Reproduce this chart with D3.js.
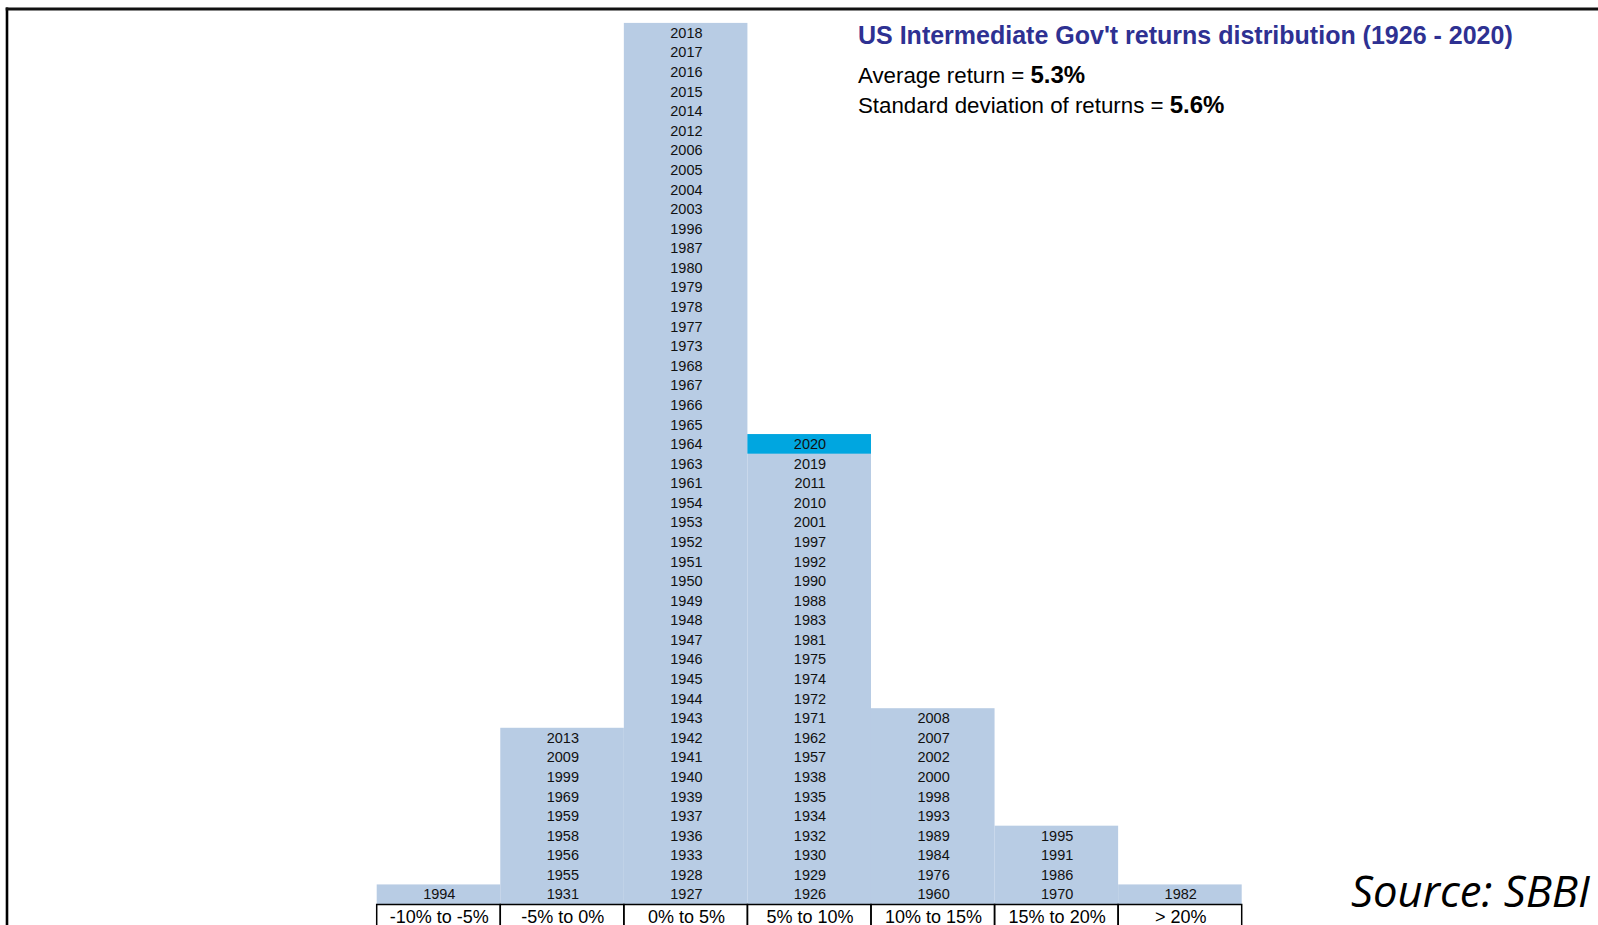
<!DOCTYPE html>
<html>
<head>
<meta charset="utf-8">
<script src="https://cdn.jsdelivr.net/npm/d3@7/dist/d3.min.js"></script>
<style>
  html, body { margin: 0; padding: 0; background: #fff; overflow: hidden; }
  svg { display: block; }
</style>
</head>
<body>
<svg id="chart" width="1598" height="925"></svg>
<script>
// ---------- data ----------
const categories = ["-10% to -5%", "-5% to 0%", "0% to 5%", "5% to 10%", "10% to 15%", "15% to 20%", "> 20%"];

// years listed top-to-bottom as they appear in each bin
const bin1 = [1994];
const bin2 = [2013, 2009, 1999, 1969, 1959, 1958, 1956, 1955, 1931];
const bin3 = [2018, 2017, 2016, 2015, 2014, 2012, 2006, 2005, 2004, 2003, 1996, 1987, 1980, 1979, 1978, 1977, 1973, 1968, 1967, 1966, 1965, 1964, 1963, 1961, 1954, 1953, 1952, 1951, 1950, 1949, 1948, 1947, 1946, 1945, 1944, 1943, 1942, 1941, 1940, 1939, 1937, 1936, 1933, 1928, 1927];
const bin4 = [2020, 2019, 2011, 2010, 2001, 1997, 1992, 1990, 1988, 1983, 1981, 1975, 1974, 1972, 1971, 1962, 1957, 1938, 1935, 1934, 1932, 1930, 1929, 1926];
const bin5 = [2008, 2007, 2002, 2000, 1998, 1993, 1989, 1984, 1976, 1960];
const bin6 = [1995, 1991, 1986, 1970];
const bin7 = [1982];
const bins = [bin1, bin2, bin3, bin4, bin5, bin6, bin7];
const highlightYear = 2020;

const titleText = "US Intermediate Gov't returns distribution (1926 - 2020)";
const avgLabel = "Average return = ";
const avgValue = "5.3%";
const sdLabel = "Standard deviation of returns = ";
const sdValue = "5.6%";
const sourceText = "Source: SBBI";

// ---------- layout ----------
const svg = d3.select("#chart");
const rowH = 19.58;
const baseY = 904;
const maxCount = d3.max(bins, b => b.length);

const x = d3.scaleBand().domain(categories).range([376.7, 1241.7]).padding(0);
const y = d3.scaleLinear().domain([0, maxCount]).range([baseY, baseY - maxCount * rowH]);

const BAR = "#b8cce4";
const HIGHLIGHT = "#00a6e0";

// frame lines
svg.append("line").attr("x1", 7).attr("x2", 7).attr("y1", 7.5).attr("y2", 925)
  .attr("stroke", "#000").attr("stroke-width", 2.6);
svg.append("line").attr("x1", 5.7).attr("x2", 1598).attr("y1", 9).attr("y2", 9)
  .attr("stroke", "#111").attr("stroke-width", 3);

// cells
const cells = [];
bins.forEach((b, ci) => {
  const n = b.length;
  b.forEach((yr, k) => {
    cells.push({ cat: categories[ci], year: yr, idx: n - 1 - k });
  });
});

// bars (one rect per column)
svg.append("g").selectAll("rect.bar")
  .data(categories.map((c, i) => ({ cat: c, count: bins[i].length })))
  .join("rect")
  .attr("class", "bar")
  .attr("x", d => x(d.cat))
  .attr("width", x.bandwidth())
  .attr("y", d => y(d.count))
  .attr("height", d => y(0) - y(d.count))
  .attr("fill", BAR);

// highlighted cell
svg.append("g").selectAll("rect.hl")
  .data(cells.filter(d => d.year === highlightYear))
  .join("rect")
  .attr("x", d => x(d.cat))
  .attr("width", x.bandwidth())
  .attr("y", d => y(d.idx + 1))
  .attr("height", d => y(d.idx) - y(d.idx + 1))
  .attr("fill", HIGHLIGHT);

// year labels
svg.append("g").selectAll("text")
  .data(cells)
  .join("text")
  .attr("x", d => x(d.cat) + x.bandwidth() / 2 + 0.8)
  .attr("y", d => y(d.idx + 0.5))
  .attr("dy", "0.36em")
  .attr("text-anchor", "middle")
  .attr("font-family", "'Liberation Sans', Arial, sans-serif")
  .attr("font-size", 14.5)
  .attr("fill", "#111")
  .text(d => d.year);

// category axis boxes
const axisG = svg.append("g");
axisG.selectAll("rect")
  .data(categories)
  .join("rect")
  .attr("x", d => x(d))
  .attr("y", baseY + 0.5)
  .attr("width", x.bandwidth())
  .attr("height", 40)
  .attr("fill", "none")
  .attr("stroke", "#000")
  .attr("stroke-width", 1.5);
axisG.selectAll("text")
  .data(categories)
  .join("text")
  .attr("x", d => x(d) + x.bandwidth() / 2 + 0.8)
  .attr("y", 916.5)
  .attr("dy", "0.36em")
  .attr("text-anchor", "middle")
  .attr("font-family", "'Liberation Sans', Arial, sans-serif")
  .attr("font-size", 18)
  .attr("fill", "#000")
  .text(d => d);

// title block
svg.append("text")
  .attr("x", 858).attr("y", 44)
  .attr("font-family", "'Liberation Sans', Arial, sans-serif")
  .attr("font-weight", "bold")
  .attr("font-size", 25)
  .attr("fill", "#2e3192")
  .text(titleText);

const s1 = svg.append("text").attr("x", 858).attr("y", 83)
  .attr("font-family", "'Liberation Sans', Arial, sans-serif")
  .attr("font-size", 22.3).attr("fill", "#000");
s1.append("tspan").text(avgLabel);
s1.append("tspan").attr("font-weight", "bold").attr("font-size", 24).text(avgValue);

const s2 = svg.append("text").attr("x", 858).attr("y", 112.5)
  .attr("font-family", "'Liberation Sans', Arial, sans-serif")
  .attr("font-size", 22.3).attr("fill", "#000");
s2.append("tspan").text(sdLabel);
s2.append("tspan").attr("font-weight", "bold").attr("font-size", 24).text(sdValue);

// source note
const src = svg.append("text")
  .attr("x", 1351).attr("y", 907)
  .attr("font-family", "'Open Sans', 'Noto Sans', sans-serif")
  .attr("font-style", "italic")
  .attr("font-size", 40)
  .attr("fill", "#000")
  .text(sourceText);
const w = src.node().getComputedTextLength();
src.attr("font-size", 40 * 239 / w);
</script>
</body>
</html>
